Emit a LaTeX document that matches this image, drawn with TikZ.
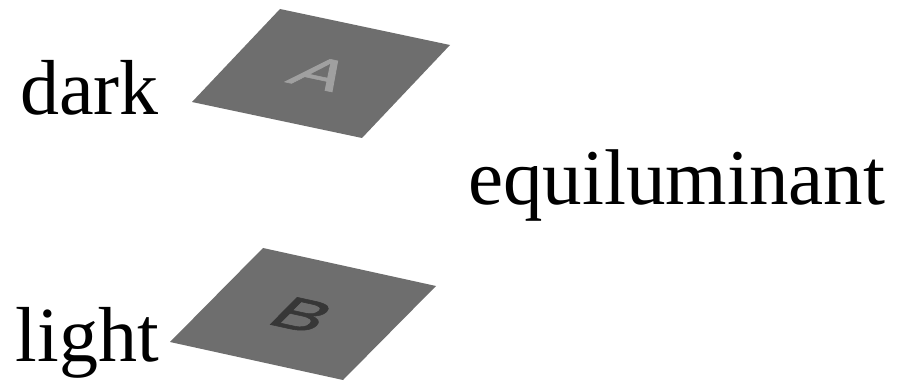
\documentclass[tikz,border=0pt]{standalone}
\usepackage{fontspec}
\setmainfont{Liberation Serif}
\newfontfamily\platefont[FakeBold=1.2]{Liberation Sans}
\definecolor{plate}{RGB}{110,110,110}
\definecolor{lightletter}{RGB}{160,160,160}
\definecolor{darkletter}{RGB}{55,55,55}
\tikzset{
  word/.style={inner sep=0pt,anchor=base west,font=\fontsize{78}{80}\selectfont},
  plateletter/.style={transform shape,inner sep=0pt,font=\platefont\fontsize{42}{42}\selectfont}
}
\begin{document}
\begin{tikzpicture}[x=1pt,y=1pt]
 \useasboundingbox (0,0) rectangle (901,385);
 \begin{scope}[shift={(192,283)},cm={1.70,-0.36,0.88,0.93,(0,0)}]
  \fill[plate] (0,0) rectangle (100,100);
  \node[plateletter,text=lightletter] (A) at (50,50) {A};
 \end{scope}
 \begin{scope}[shift={(170,43)},cm={1.73,-0.38,0.93,0.94,(0,0)}]
  \fill[plate] (0,0) rectangle (100,100);
  \node[plateletter,text=darkletter] (B) at (50,49) {B};
 \end{scope}
 \node[word] (dark) at (20,270) {dark};
 \node[word] (light) at (15.5,23) {light};
 \node[word,font=\fontsize{79}{80}\selectfont] (equi) at (468,180) {equiluminant};
\end{tikzpicture}
\end{document}
